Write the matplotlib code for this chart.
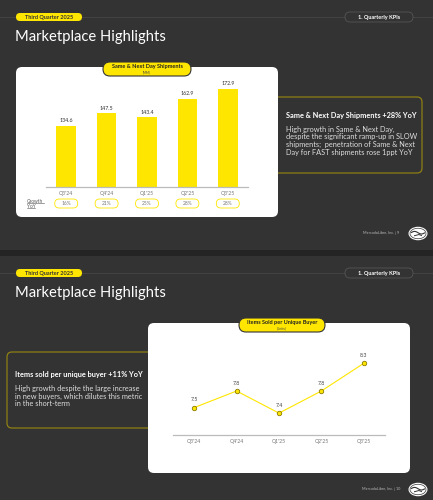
import matplotlib
matplotlib.use("Agg")
import matplotlib.pyplot as plt
from matplotlib.patches import FancyBboxPatch, Ellipse
import numpy as np

plt.rcParams['font.family'] = ['Lato', 'DejaVu Sans']

# ---------------- data ----------------
quarters = ["Q3'24", "Q4'24", "Q1'25", "Q2'25", "Q3'25"]
shipments = [134.6, 147.5, 143.4, 162.9, 172.9]
growth_yoy = ["16%", "21%", "25%", "28%", "28%"]
items_per_buyer = [7.5, 7.8, 7.4, 7.8, 8.3]

YEL = "#FFE600"
BG = "#333333"
W, H = 433, 500

fig = plt.figure(figsize=(W / 100, H / 100), dpi=100)
fig.patch.set_facecolor(BG)

def rect(x0, y0, x1, y1):
    return [x0 / W, 1 - y1 / H, (x1 - x0) / W, (y1 - y0) / H]

bg = fig.add_axes([0, 0, 1, 1], zorder=0)
bg.set_xlim(0, W)
bg.set_ylim(H, 0)
bg.axis('off')

def rbox(x0, y0, x1, y1, r, fc, ec='none', lw=0.0, z=1):
    p = FancyBboxPatch((x0, y0), x1 - x0, y1 - y0,
                       boxstyle=f"round,pad=0,rounding_size={r}",
                       fc=fc, ec=ec, lw=lw, zorder=z)
    bg.add_patch(p)

def logo(cx, cy):
    bg.add_patch(Ellipse((cx, cy), 19, 13.5, fc='white', ec='none', zorder=3))
    bg.add_patch(Ellipse((cx, cy), 16, 10.5, fc='white', ec="#333333", lw=0.5, zorder=3))
    xs = np.linspace(cx - 6.5, cx + 6.5, 20)
    bg.plot(xs, cy - 0.8 + 1.3 * np.sin((xs - cx) / 2.2), color="#333333", lw=0.8, zorder=4)
    bg.plot([cx - 3.5, cx + 1, cx + 3.5], [cy + 2.2, cy + 1.0, cy + 2.0], color="#333333", lw=0.7, zorder=4)

# slide separator
bg.add_patch(plt.Rectangle((0, 250), W, 6, fc="#242424", ec='none', zorder=1))

def slide_header(off, page):
    bg.plot([0, W], [off + 17, off + 17], color="#474747", lw=0.6, zorder=1)
    rbox(16, off + 13, 82, off + 21, 4, YEL, z=2)
    bg.text(49, off + 17.2, "Third Quarter 2025", ha='center', va='center',
            fontsize=4, fontweight='bold', color="#333333", zorder=3)
    rbox(345, off + 12, 413, off + 22, 5, BG, ec="#555555", lw=0.6, z=2)
    bg.text(379, off + 17.2, "1. Quarterly KPIs", ha='center', va='center',
            fontsize=4, fontweight='bold', color="white", zorder=3)
    bg.text(15, off + 37.5, "Marketplace Highlights", ha='left', va='center',
            fontsize=10.6, color="white", zorder=3)
    bg.text(399 if page == 9 else 400, off + 233, f"MercadoLibre, Inc. | {page}",
            ha='right', va='center', fontsize=2.7, color="#bbbbbb", zorder=3)
    logo(418, off + 233.5)

# ---------------- slide 1 ----------------
slide_header(0, 9)
rbox(265, 97, 422, 173, 5, BG, ec="#8f7f14", lw=0.9, z=1)
bg.text(286, 115.7, "Same & Next Day Shipments +28% YoY", ha='left', va='center',
        fontsize=5.3, fontweight='bold', color='white', zorder=3)
for i, line in enumerate(["High growth in Same & Next Day,",
                          "despite the significant ramp-up in SLOW",
                          "shipments;  penetration of Same & Next",
                          "Day for FAST shipments rose 1ppt YoY"]):
    bg.text(286, 129.3 + i * 7.6, line, ha='left', va='center',
            fontsize=5.3, color='#dddddd', zorder=3)
rbox(16, 67, 278, 217, 6, 'white', z=2)
rbox(103, 62, 191, 76, 7, YEL, ec="#333333", lw=0.8, z=3)
bg.text(147, 66.3, "Same & Next Day Shipments", ha='center', va='center',
        fontsize=4, fontweight='bold', color="#222222", zorder=4)
bg.text(147, 72.5, "(MM)", ha='center', va='center', fontsize=2.4, color="#444444", zorder=4)
bg.text(27, 201.3, "Growth", ha='left', va='center', fontsize=3.4, color="#555555", zorder=4)
bg.text(27, 206.3, "YoY", ha='left', va='center', fontsize=3.4, color="#555555", zorder=4)
bg.plot([27, 43.5], [203.3, 203.3], color="#555555", lw=0.4, zorder=4)
bg.plot([27, 35], [208.3, 208.3], color="#555555", lw=0.4, zorder=4)

ax1 = fig.add_axes(rect(46, 80, 248, 187), zorder=5)
ax1.patch.set_alpha(0)
x = np.arange(len(quarters))
ax1.bar(x, shipments, width=0.49, color=YEL, zorder=2)
ax1.set_xlim(-0.5, 4.5)
ax1.set_ylim(71, 71 + 107 / 0.962)
for s in ['top', 'right', 'left']:
    ax1.spines[s].set_visible(False)
ax1.spines['bottom'].set_color("#bbbbbb")
ax1.spines['bottom'].set_linewidth(0.9)
ax1.set_yticks([])
ax1.set_xticks(x)
ax1.set_xticklabels(quarters, fontsize=3.7, color="#777777")
ax1.tick_params(axis='x', length=0, pad=3.2)
for xi, v in zip(x, shipments):
    ax1.annotate(f"{v:.1f}", (xi, v), xytext=(0, 2.0), textcoords='offset points',
                 ha='center', va='bottom', fontsize=3.8, color="#333333")
# growth pills: x from the bar axis data transform
for xi, g in zip(x, growth_yoy):
    px = ax1.transData.transform((xi, 71))[0]
    rbox(px - 11.5, 199, px + 11.5, 208, 4.5, 'white', ec=YEL, lw=0.6, z=4)
    bg.text(px, 203.6, g, ha='center', va='center', fontsize=3.5, color="#777777", zorder=5)

# ---------------- slide 2 ----------------
off = 256
slide_header(off, 10)
rbox(7, 352, 160, 428, 5, BG, ec="#8f7f14", lw=0.9, z=1)
bg.text(15, 374, "Items sold per unique buyer +11% YoY", ha='left', va='center',
        fontsize=5.3, fontweight='bold', color='white', zorder=3)
for i, line in enumerate(["High growth despite the large increase",
                          "in new buyers, which dilutes this metric",
                          "in the short-term"]):
    bg.text(15, 388 + i * 8.0, line, ha='left', va='center',
            fontsize=5.3, color='#dddddd', zorder=3)
rbox(148, 323, 410, 473, 6, 'white', z=2)
rbox(239, 318, 325, 332, 7, YEL, ec="#333333", lw=0.8, z=3)
bg.text(282, 322.3, "Items Sold per Unique Buyer", ha='center', va='center',
        fontsize=4, fontweight='bold', color="#222222", zorder=4)
bg.text(282, 328.3, "(Units)", ha='center', va='center', fontsize=2.4, color="#444444", zorder=4)

ax2 = fig.add_axes(rect(173, 345, 385, 435.3), zorder=5)
ax2.patch.set_alpha(0)
ax2.plot(x, items_per_buyer, color=YEL, lw=0.8, marker='o', markersize=3.2,
         mfc=YEL, mec="#8a7a00", mew=0.6, zorder=3, clip_on=False)
ax2.set_xlim(-0.5, 4.5)
ax2.set_ylim(7.0, 7.0 + 90.3 / 55.4)
for s in ['top', 'right', 'left']:
    ax2.spines[s].set_visible(False)
ax2.spines['bottom'].set_color("#bbbbbb")
ax2.spines['bottom'].set_linewidth(0.9)
ax2.set_yticks([])
ax2.set_xticks(x)
ax2.set_xticklabels(quarters, fontsize=3.7, color="#777777")
ax2.tick_params(axis='x', length=0, pad=2.9)
for xi, v in zip(x, items_per_buyer):
    ax2.annotate(f"{v:.1f}", (xi, v), xytext=(0, 5.5), textcoords='offset points',
                 ha='center', va='center', fontsize=3.8, color="#444444")

fig.savefig("out.png", dpi=100, facecolor=fig.get_facecolor())
